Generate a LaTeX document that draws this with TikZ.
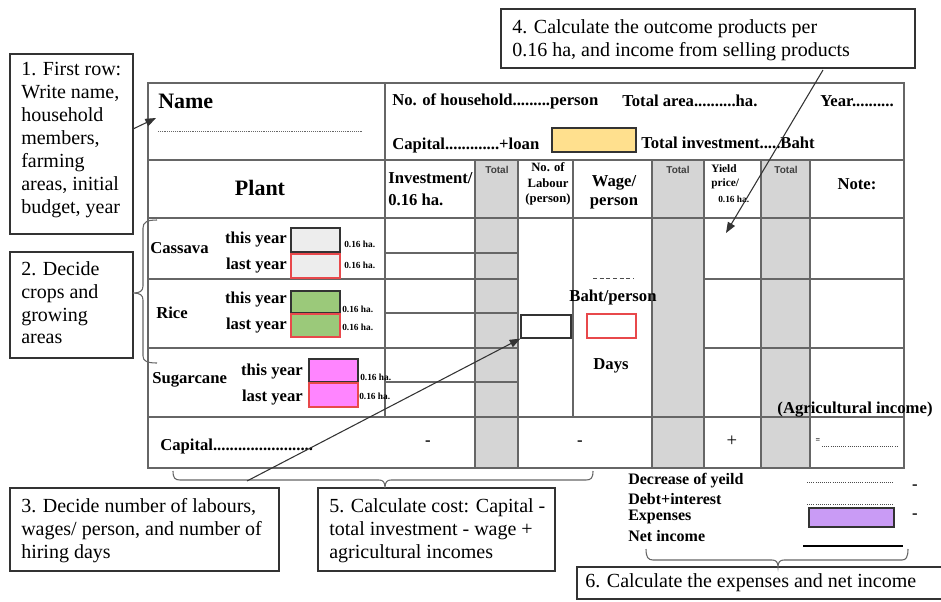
\documentclass[tikz,border=0pt]{standalone}
\usepackage{fontspec}
\setmainfont{Liberation Serif}
\setsansfont{Liberation Sans}
\newfontfamily\tnr{Liberation Serif}
\usetikzlibrary{arrows.meta,fit}
\definecolor{colgray}{HTML}{D5D5D5}
\definecolor{cassfill}{HTML}{EDEDED}
\definecolor{redb}{HTML}{E8484B}
\definecolor{ricefill}{HTML}{9BC97A}
\definecolor{sugfill}{HTML}{FF85FF}
\definecolor{yelfill}{HTML}{FFE08E}
\definecolor{purfill}{HTML}{C99BF5}
\newcommand\tbf{\fontsize{12.5}{14}\selectfont\bfseries}
\newcommand\tbig{\fontsize{16.5}{18}\selectfont\bfseries}
\newcommand\tsml{\fontsize{9.5}{11.5}\selectfont\bfseries}
\newcommand\ttiny{\fontsize{7}{8}\selectfont\bfseries}
\newcommand\ttot{\fontsize{7.5}{9}\selectfont\sffamily\bfseries}
\newcommand\cfont{\tnr\fontsize{15}{17.2}\selectfont}
\newcommand\lgf{\fontsize{12}{13}\selectfont\bfseries}
\begin{document}
\begin{tikzpicture}[x=0.75pt,y=-0.75pt,
  tl/.style={draw=black!60, line width=0.8pt},
  tx/.style={inner sep=0pt, font=\tbf},
  sm/.style={inner sep=0pt, font=\tsml, align=left},
  ha/.style={inner sep=0pt, font=\ttiny, anchor=west},
  tot/.style={inner sep=0pt, font=\ttot, text=black!75},
  cbox/.style={draw=black!80, line width=1.1pt, inner sep=0pt, fill=white},
  ct/.style={inner sep=0pt, font=\cfont, align=left, anchor=north west},
  lg/.style={inner sep=0pt, font=\lgf, anchor=west},
  arr/.style={draw=black!80, line width=0.8pt, -{Triangle[length=8pt,width=6pt]}},
  brc/.style={draw=black!60, line width=0.8pt},
  cropbox/.style={draw=black!80, line width=0.8pt},
  redbox/.style={draw=redb, line width=0.9pt}]
\useasboundingbox (0,0) rectangle (941,601);

% ---------- gray columns ----------
\fill[colgray] (475,160) rectangle (518,468);
\fill[colgray] (652,160) rectangle (704,468);
\fill[colgray] (761,160) rectangle (810,468);

% ---------- table grid ----------
\draw[tl] (148,83) rectangle (904,468);
\draw[tl] (148,160) -- (904,160);
\draw[tl] (148,218) -- (904,218);
\draw[tl] (148,417) -- (904,417);
\draw[tl] (148,279) -- (518,279);
\draw[tl] (148,348) -- (518,348);
\draw[tl] (385,253) -- (518,253);
\draw[tl] (385,313) -- (518,313);
\draw[tl] (385,382) -- (518,382);
\draw[tl] (704,279) -- (904,279);
\draw[tl] (704,348) -- (904,348);
\draw[tl] (385,83) -- (385,417);
\draw[tl] (475,160) -- (475,468);
\draw[tl] (518,160) -- (518,468);
\draw[tl] (573,160) -- (573,417);
\draw[tl] (652,160) -- (652,468);
\draw[tl] (704,160) -- (704,468);
\draw[tl] (761,160) -- (761,468);
\draw[tl] (810,160) -- (810,468);

% ---------- first row ----------
\node[tx, font=\tbig, anchor=west] (name) at (158,101) {Name};
\draw[densely dotted, black!60] (158,131) -- (362,131);
\node[tx, anchor=west] (hh) at (392,101) {No. of household.........person};
\node[tx, anchor=west] (area) at (622,101) {Total area..........ha.};
\node[tx, anchor=west] (year) at (820,101) {Year..........};
\node[tx, anchor=west] (cap) at (392,145) {Capital.............+loan};
\node[draw=black!80, line width=0.9pt, fill=yelfill, inner sep=0pt, fit={(552,128)(636,152)}] (loan) {};
\node[tx, anchor=west] (tinv) at (641,143) {Total investment.....Baht};

% ---------- header row ----------
\node[tx, font=\tbig] (plant) at (260,188) {Plant};
\node[tx, anchor=west] (inv1) at (388,178) {Investment/};
\node[tx, anchor=west] (inv2) at (388,200) {0.16 ha.};
\node[tot] (t1) at (497,170) {Total};
\node[tot] (t2) at (678,170) {Total};
\node[tot] (t3) at (786,170) {Total};
\node[sm, align=center] (lab) at (548,184) {No. of\\Labour\\(person)};
\node[tx, align=center] (wage) at (614,192) {Wage/\\person};
\node[sm, anchor=west, font=\fontsize{8.5}{10.5}\selectfont\bfseries] (yield) at (711,177) {Yield\\price/};
\node[ha] (yha) at (718,199) {0.16 ha.};
\node[tx] (note) at (857,184) {Note:};

% ---------- cassava ----------
\node[tx, anchor=west] (cass) at (150,248) {Cassava};
\node[tx, anchor=east] (cty) at (287,240) {this year};
\node[tx, anchor=east] (cly) at (287,266) {last year};
\node[cropbox, fill=cassfill, inner sep=0pt, fit={(291,228)(340,252)}] (cb1) {};
\node[redbox, fill=cassfill, inner sep=0pt, fit={(291,254)(340,278)}] (cb2) {};
\node[ha] at (344,244) {0.16 ha.};
\node[ha] at (344,265) {0.16 ha.};

% ---------- rice ----------
\node[tx, anchor=west] (rice) at (156,313) {Rice};
\node[tx, anchor=east] (rty) at (287,300) {this year};
\node[tx, anchor=east] (rly) at (287,326) {last year};
\node[cropbox, fill=ricefill, inner sep=0pt, fit={(291,291)(340,313)}] (rb1) {};
\node[redbox, fill=ricefill, inner sep=0pt, fit={(291,314)(340,337)}] (rb2) {};
\node[ha] at (342,309) {0.16 ha.};
\node[ha] at (342,327) {0.16 ha.};

% ---------- sugarcane ----------
\node[tx, anchor=west] (sug) at (152,380) {Sugarcane};
\node[tx, anchor=east] (sty) at (303,372) {this year};
\node[tx, anchor=east] (sly) at (303,398) {last year};
\node[cropbox, fill=sugfill, inner sep=0pt, fit={(309,359)(358,382)}] (sb1) {};
\node[redbox, fill=sugfill, inner sep=0pt, fit={(309,383)(358,407)}] (sb2) {};
\node[ha] at (360,377) {0.16 ha.};
\node[ha] at (359,396) {0.16 ha.};

% ---------- labour / wage ----------
\node[draw=black!80, line width=0.9pt, fill=white, inner sep=0pt, fit={(521,315)(571,338)}] (labbox) {};
\draw[densely dashed, black!70, line width=0.5pt] (593,278) -- (634,278);
\node[tx] (baht) at (613,297) {Baht/person};
\node[redbox, fill=white, inner sep=0pt, fit={(587,314)(636,338)}] (daysbox) {};
\node[tx] (days) at (611,366) {Days};

% ---------- capital row ----------
\node[tx, anchor=west] (capr) at (160,446) {Capital........................};
\node[tx] (m1) at (428,443) {-};
\node[tx] (m2) at (580,443) {-};
\node[tx, font=\fontsize{14}{16}\selectfont] (pl) at (732,441) {+};
\node[tx, font=\fontsize{6}{7}\selectfont\bfseries] (eq) at (818,441) {=};
\draw[densely dotted, black!70, line width=0.6pt] (822,446) -- (898,446);
\node[tx] (agri) at (855,410) {(Agricultural income)};

% ---------- legend ----------
\node[lg] (dec) at (628,481) {Decrease of yeild};
\node[lg] (debt) at (628,499) {Debt+interest};
\node[lg] (exp) at (628,517) {Expenses};
\node[lg] (net) at (628,536) {Net income};
\draw[densely dotted, black!70, line width=0.6pt] (807,482) -- (893,482);
\draw[densely dotted, black!70, line width=0.6pt] (807,504) -- (893,504);
\node[draw=black!80, line width=0.9pt, fill=purfill, inner sep=0pt, fit={(809,508)(894,527)}] (pbox) {};
\node[tx] at (915,487) {-};
\node[tx] at (915,516) {-};
\draw[black, line width=1.6pt] (803,546) -- (903,546);

% ---------- callout boxes ----------
\node[cbox, fit={(10,54)(133,234)}] (b1) {};
\node[ct] at (21,62) {1. First row:\\Write name,\\household\\members,\\farming\\areas, initial\\budget, year};
\node[cbox, fit={(10,252)(133,358)}] (b2) {};
\node[ct] at (21,261) {2. Decide\\crops and\\growing\\areas};
\node[cbox, fit={(10,488)(279,571)}] (b3) {};
\node[ct] at (21,498) {3. Decide number of labours,\\wages/ person, and number of\\hiring days};
\node[cbox, fit={(318,488)(555,571)}] (b5) {};
\node[ct] at (329,498) {5. Calculate cost: Capital -\\total investment - wage +\\agricultural incomes};
\node[cbox, fit={(501,9)(915,68)}] (b4) {};
\node[ct] at (512,19) {4. Calculate the outcome products per\\0.16 ha, and income from selling products};
\node[cbox, fit={(577,567)(948,599)}] (b6) {};
\node[ct, anchor=west] at (585,583) {6. Calculate the expenses and net income};

% ---------- braces ----------
\draw[brc] (157,220) .. controls (147,220) and (143,222) .. (143,228) -- (143,286)
  .. controls (143,291) and (140,293) .. (133,293)
  .. controls (140,293) and (143,295) .. (143,300) -- (143,356)
  .. controls (143,361) and (147,363) .. (157,363);
\draw[brc] (173,471) .. controls (173,478) and (175,480) .. (180,480) -- (379,480)
  .. controls (383,480) and (385,482) .. (385,488)
  .. controls (385,482) and (387,480) .. (391,480) -- (586,480)
  .. controls (591,480) and (593,478) .. (593,471);
\draw[brc] (646,549) .. controls (646,557) and (648,560) .. (653,560) -- (772,560)
  .. controls (776,560) and (778,562) .. (778,567)
  .. controls (778,562) and (780,560) .. (784,560) -- (902,560)
  .. controls (906,560) and (908,557) .. (908,549);

% ---------- connectors ----------
\coordinate (b1o) at (133,129);
\coordinate (nameT) at (156,118);
\draw[arr] (b1o) -- (nameT);
\coordinate (b4o) at (823,70);
\coordinate (yT) at (726,233);
\draw[arr] (b4o) -- (yT);
\coordinate (b3o) at (247,481);
\draw[arr] (b3o) -- (labbox.south west);
\end{tikzpicture}
\end{document}
